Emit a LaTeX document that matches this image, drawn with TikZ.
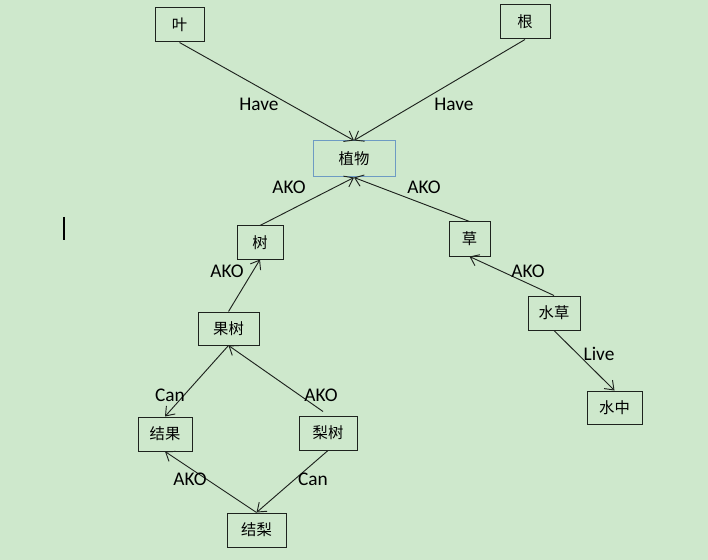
\documentclass[tikz,border=0pt]{standalone}
\usepackage{fontspec}
\setmainfont{Carlito}
\newfontfamily\cjk{Noto Sans CJK SC}
\usetikzlibrary{arrows.meta}
\definecolor{bg}{RGB}{206,232,204}
\definecolor{edgecol}{RGB}{30,35,30}
\definecolor{bluebox}{RGB}{110,155,195}
\tikzset{
  box/.style={draw=edgecol, line width=0.75pt, inner sep=0pt, font=\cjk\fontsize{11.5}{13}\selectfont, text=black},
  bw/.style={minimum width=#1*0.75pt},
  bh/.style={minimum height=#1*0.75pt},
  lab/.style={font=\fontsize{14.5}{16}\selectfont, text=black, inner sep=0pt},
  conn/.style={draw=edgecol, line width=0.7pt, -{Straight Barb[length=6pt,width=9pt]}},
}
\begin{document}
\begin{tikzpicture}[x=0.75pt,y=-0.75pt]
\fill[bg] (0,0) rectangle (708,560);
\useasboundingbox (0,0) rectangle (708,560);
% nodes
\node[box,bw=49,bh=34] (ye) at (179.5,25) {叶};
\node[box,bw=50,bh=34] (gen) at (525,22) {根};
\node[box,bw=82,bh=36,draw=bluebox] (zhiwu) at (354,159) {植物};
\node[box,bw=46,bh=33] (shu) at (260,242.5) {树};
\node[box,bw=41,bh=34] (cao) at (469.5,239) {草};
\node[box,bw=61,bh=33] (guoshu) at (228.5,328.5) {果树};
\node[box,bw=52,bh=34] (shuicao) at (554,313) {水草};
\node[box,bw=54,bh=34] (jieguo) at (165,434) {结果};
\node[box,bw=58,bh=34] (lishu) at (328,433) {梨树};
\node[box,bw=59,bh=34] (jieli) at (256.5,530) {结梨};
\node[box,bw=55,bh=33] (shuizhong) at (614.5,407.5) {水中};
% connectors
\draw[conn] (ye.south) -- (zhiwu.north);
\draw[conn] (gen.south) -- (zhiwu.north);
\draw[conn] (shu.north) -- (zhiwu.south);
\draw[conn] (cao.north) -- (zhiwu.south);
\draw[conn] (guoshu.north) -- (shu.south);
\draw[conn] (shuicao.north) -- (cao.south);
\draw[conn] (guoshu.south) -- (jieguo.north);
\draw[conn] ([xshift=-3.75pt,yshift=3pt]lishu.north) -- (guoshu.south);
\draw[conn] (jieli.north) -- (jieguo.south);
\draw[conn] (lishu.south) -- (jieli.north);
\draw[conn] (shuicao.south) -- (shuizhong.north);
% labels
\node[lab] (l1) at (259,104) {Have};
\node[lab] (l2) at (454,104) {Have};
\node[lab] (l3) at (289,187) {AKO};
\node[lab] (l4) at (424,187) {AKO};
\node[lab] (l5) at (227,271) {AKO};
\node[lab] (l6) at (528,271) {AKO};
\node[lab] (l7) at (170,395) {Can};
\node[lab] (l8) at (321,395) {AKO};
\node[lab] (l9) at (190,479) {AKO};
\node[lab] (l10) at (313,479) {Can};
\node[lab] (l11) at (599,354) {Live};
% text cursor
\draw[black, line width=1.5pt] (63.5,217) -- (63.5,240);
\end{tikzpicture}
\end{document}
